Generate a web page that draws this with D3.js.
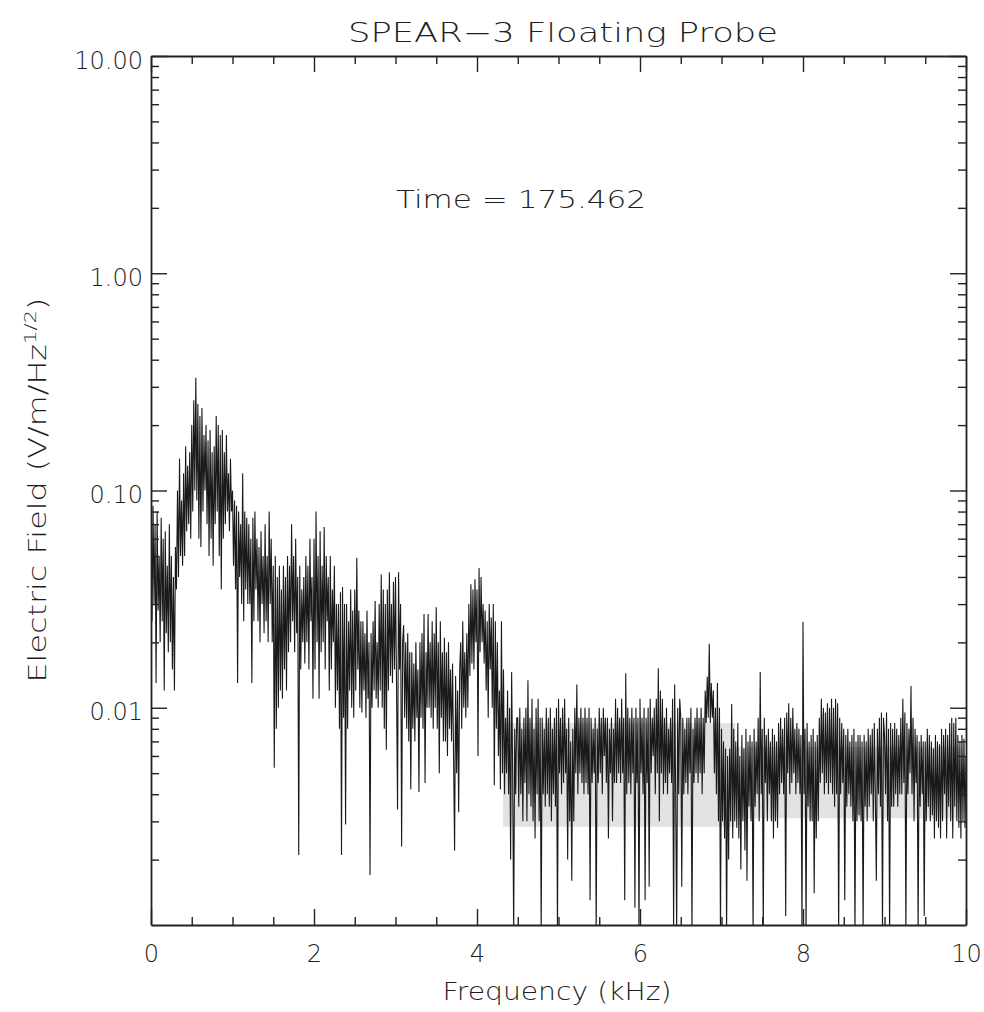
<!DOCTYPE html>
<html>
<head>
<meta charset="utf-8">
<script src="https://d3js.org/d3.v7.min.js"></script>
<style>
  body { margin: 0; background: #fff; }
  svg { display: block; }
  .lbl { font-family: "DejaVu Sans Light", "DejaVu Sans ExtraLight", "DejaVu Sans", sans-serif; font-weight: 200; fill: #1e1e1e; }
  .axis path, .axis line { stroke: #222; }
  .axis text { font-family: "DejaVu Sans Light", "DejaVu Sans ExtraLight", "DejaVu Sans", sans-serif; font-weight: 200; fill: #1e1e1e; font-size: 24px; }
</style>
</head>
<body>
<div id="chart"></div>
<script>
// probe spectrum, one sample every 12.5 Hz, one array per kHz (V/m/Hz^1/2)
const freqStep = 0.0125;
const khz0to1 = [
  .06,.025,.085,.03,.07,.013,.08,.028,  .05,.02,.075,.025,.06,.012,.065,.022,
  .045,.018,.07,.02,.05,.015,.04,.012,  .055,.035,.1,.04,.14,.05,.09,.045,
  .12,.05,.16,.065,.13,.07,.15,.06,     .2,.08,.26,.1,.33,.09,.25,.06,
  .22,.055,.24,.08,.18,.1,.2,.07,       .17,.05,.19,.06,.15,.045,.16,.07,
  .22,.08,.2,.05,.18,.035,.19,.06,      .15,.07,.18,.08,.12,.065,.14,.08];
const khz1to2 = [
  .1,.045,.09,.035,.085,.013,.08,.04,   .07,.03,.12,.025,.08,.035,.075,.03,
  .07,.03,.06,.013,.075,.025,.08,.035,  .06,.025,.055,.02,.065,.03,.05,.022,
  .07,.025,.05,.02,.08,.03,.06,.02,     .045,.0053,.05,.008,.04,.01,.045,.012,
  .035,.011,.045,.015,.04,.012,.05,.018, .045,.02,.07,.025,.05,.018,.06,.022,
  .04,.0021,.045,.015,.035,.02,.04,.016, .05,.02,.045,.015,.06,.025,.04,.011];
const khz2to3 = [
  .06,.015,.08,.02,.05,.011,.065,.018,  .045,.02,.068,.015,.05,.025,.04,.012,
  .05,.015,.035,.02,.045,.01,.03,.012,  .03,.008,.034,.0021,.036,.009,.03,.0029,
  .03,.008,.025,.012,.035,.01,.028,.009, .035,.012,.049,.015,.028,.01,.025,.0095,
  .025,.012,.022,.009,.028,.011,.02,.0017, .022,.01,.025,.012,.031,.011,.02,.01,
  .03,.012,.041,.01,.035,.008,.03,.0064, .035,.012,.042,.014,.03,.013,.038,.015];
const khz3to4 = [
  .04,.013,.0034,.042,.015,.03,.0023,.02, .024,.009,.02,.008,.022,.007,.018,.0042,
  .018,.008,.016,.007,.02,.009,.015,.0041, .02,.009,.022,.008,.027,.0045,.018,.01,
  .027,.01,.02,.009,.025,.008,.022,.01,  .029,.008,.02,.005,.025,.009,.018,.007,
  .021,.007,.018,.006,.02,.008,.015,.007, .016,.006,.0022,.014,.005,.012,.0033,.015,
  .02,.008,.025,.01,.018,.009,.022,.01,  .03,.014,.037,.016,.035,.015,.039,.02];
const khz4to5 = [
  .035,.006,.044,.018,.04,.02,.03,.016,  .028,.012,.025,.009,.03,.015,.026,.01,
  .03,.0044,.025,.008,.02,.006,.012,.0042, .025,.005,.015,.004,.009,.005,.012,.004,
  .01,.002,.0146,.005,.0009,.008,.004,.009, .009,.0035,.01,.004,.008,.003,.009,.0045,
  .01,.003,.0134,.004,.009,.0035,.011,.003, .008,.0025,.01,.004,.011,.003,.009,.0009,
  .009,.004,.008,.0035,.01,.004,.009,.0035, .01,.003,.008,.004,.009,.0035,.01,.0009];
const khz5to6 = [
  .011,.005,.009,.004,.01,.0045,.011,.005, .008,.002,.009,.003,.007,.0016,.008,.003,
  .01,.005,.0128,.004,.009,.005,.01,.0045, .009,.004,.01,.0045,.009,.004,.01,.0013,
  .009,.0045,.008,.005,.009,.0009,.008,.0045, .01,.005,.009,.004,.01,.006,.009,.0045,
  .009,.0025,.008,.005,.009,.003,.008,.0045, .011,.0045,.01,.005,.009,.0045,.011,.005,
  .009,.0013,.0144,.004,.01,.0045,.009,.004, .01,.005,.009,.0012,.01,.0045,.009,.0009];
const khz6to7 = [
  .011,.005,.009,.004,.01,.0013,.009,.0045, .01,.0015,.011,.005,.009,.006,.01,.004,
  .011,.005,.0152,.003,.012,.005,.011,.004, .009,.0045,.01,.004,.008,.005,.009,.0045,
  .011,.0009,.0128,.004,.0009,.01,.004,.011, .009,.0015,.009,.004,.008,.0045,.009,.004,
  .009,.005,.01,.0009,.008,.0045,.009,.005, .01,.0045,.009,.005,.01,.004,.009,.005,
  .012,.0085,.0139,.009,.0197,.0085,.013,.009, .012,.005,.01,.004,.013,.003,.01,.0009];
const khz7to8 = [
  .008,.003,.007,.0025,.0065,.0009,.006,.002, .0065,.003,.0104,.0025,.008,.003,.007,.0028,
  .0085,.0025,.006,.0018,.0075,.003,.0065,.0022, .008,.0016,.007,.0035,.0075,.003,.007,.0009,
  .008,.0035,.007,.004,.009,.003,.0146,.004, .008,.0009,.009,.0045,.0075,.003,.008,.004,
  .007,.003,.008,.0025,.0075,.003,.007,.0028, .0085,.004,.009,.0045,.008,.004,.009,.0011,
  .0095,.005,.0105,.004,.009,.0045,.01,.005, .008,.004,.0085,.0045,.008,.004,.0075,.0009];
const khz8to9 = [
  .0249,.004,.008,.0009,.0085,.0035,.007,.003, .0075,.003,.008,.0014,.007,.0025,.0075,.003,
  .009,.0045,.011,.005,.01,.004,.0095,.0045, .0105,.004,.01,.0045,.011,.004,.01,.0035,
  .011,.004,.0105,.0009,.009,.004,.0085,.0045, .008,.0013,.0075,.0035,.008,.004,.007,.0035,
  .0075,.003,.008,.0009,.007,.003,.0075,.0032, .0075,.003,.007,.0009,.0075,.0035,.007,.003,
  .008,.0035,.0075,.004,.008,.003,.0085,.004, .0016,.008,.004,.009,.0035,.0095,.0009,.009];
const khz9to10 = [
  .0075,.004,.0095,.003,.008,.0009,.0085,.0035, .008,.0035,.0085,.004,.008,.0035,.0075,.004,
  .009,.004,.011,.0045,.0095,.0009,.0085,.004, .008,.005,.0126,.004,.009,.003,.008,.0045,
  .0075,.0009,.007,.0035,.0075,.004,.007,.0011, .007,.003,.008,.0035,.0075,.003,.007,.0032,
  .0065,.0025,.0075,.003,.007,.0028,.0068,.0025, .008,.003,.0075,.004,.008,.0025,.0075,.0035,
  .0085,.003,.009,.0025,.0085,.0035,.009,.003, .0075,.0028,.007,.0025,.0075,.003,.0072,.0028,
  .006];

// grey smudge of the scanned original, kHz / field extents
const scanShade = [
  {f0: 4.32, f1: 7.17, lo: 0.00283, hi: 0.0085},
  {f0: 7.17, f1: 9.93, lo: 0.0031, hi: 0.0066}
];

const freqMajor = [0, 2, 4, 6, 8, 10];
const freqMinor = [0.5, 1, 1.5, 2.5, 3, 3.5, 4.5, 5, 5.5, 6.5, 7, 7.5, 8.5, 9, 9.5];
const fieldMajor = [0.01, 0.1, 1, 10];
const fieldLabels = ["0.01", "0.10", "1.00", "10.00"];
const decades = [0.001, 0.01, 0.1, 1];
const mantissas = [2, 3, 4, 5, 6, 7, 8, 9];

const titleText = "SPEAR\u22123 Floating Probe";
const timeText = "Time = 175.462";
const xTitle = "Frequency (kHz)";

const margin = {top: 56, right: 18, bottom: 87, left: 151};
const W = 984 - margin.left - margin.right;
const H = 1012 - margin.top - margin.bottom;

const svg = d3.select("#chart").append("svg")
  .attr("width", 984).attr("height", 1012);

const g = svg.append("g")
  .attr("transform", `translate(${margin.left},${margin.top})`);

const x = d3.scaleLinear().domain([0, 10]).range([0, W]);
const y = d3.scaleLog().domain([0.001, 10]).range([H, 0]);

const spectrum = [].concat(khz0to1, khz1to2, khz2to3, khz3to4, khz4to5,
    khz5to6, khz6to7, khz7to8, khz8to9, khz9to10)
  .map((v, i) => ({f: i * freqStep, e: v}));

const fieldMinor = [];
decades.forEach(d => mantissas.forEach(m => fieldMinor.push(d * m)));

g.append("clipPath").attr("id", "plotclip")
  .append("rect").attr("width", W).attr("height", H);

g.selectAll("rect.shade")
  .data(scanShade)
  .enter().append("rect")
  .attr("class", "shade")
  .attr("x", d => x(d.f0))
  .attr("y", d => y(d.hi))
  .attr("width", d => x(d.f1) - x(d.f0))
  .attr("height", d => y(d.lo) - y(d.hi))
  .attr("fill", "#e2e2e2");

g.append("path")
  .datum(spectrum)
  .attr("clip-path", "url(#plotclip)")
  .attr("fill", "none")
  .attr("stroke", "#1a1a1a")
  .attr("stroke-width", 1.1)
  .attr("stroke-linejoin", "bevel")
  .attr("d", d3.line().x(d => x(d.f)).y(d => y(d.e)));

function styleAxis(sel) {
  sel.attr("class", "axis");
  sel.selectAll("line").attr("stroke-width", 1.4);
  sel.select(".domain").attr("stroke-width", 1.8);
}

// bottom / top
g.append("g").attr("transform", `translate(0,${H})`)
  .call(d3.axisBottom(x).tickValues(freqMajor).tickSize(-16).tickSizeOuter(0)
    .tickPadding(20).tickFormat(d3.format("d")))
  .call(styleAxis);
g.append("g").attr("transform", `translate(0,${H})`)
  .call(d3.axisBottom(x).tickValues(freqMinor).tickSize(-8).tickFormat(""))
  .call(styleAxis).call(s => s.select(".domain").remove());
g.append("g")
  .call(d3.axisTop(x).tickValues(freqMajor).tickSize(-16).tickSizeOuter(0).tickFormat(""))
  .call(styleAxis);
g.append("g")
  .call(d3.axisTop(x).tickValues(freqMinor).tickSize(-8).tickFormat(""))
  .call(styleAxis).call(s => s.select(".domain").remove());

// left / right
g.append("g")
  .call(d3.axisLeft(y).tickValues(fieldMajor).tickSize(-16).tickSizeOuter(0)
    .tickPadding(8).tickFormat((d, i) => fieldLabels[i]))
  .call(styleAxis)
  .call(s => s.selectAll("text").attr("dy", "0.5em"));
g.append("g")
  .call(d3.axisLeft(y).tickValues(fieldMinor).tickSize(-8).tickFormat(""))
  .call(styleAxis).call(s => s.select(".domain").remove());
g.append("g").attr("transform", `translate(${W},0)`)
  .call(d3.axisRight(y).tickValues(fieldMajor).tickSize(-16).tickSizeOuter(0).tickFormat(""))
  .call(styleAxis);
g.append("g").attr("transform", `translate(${W},0)`)
  .call(d3.axisRight(y).tickValues(fieldMinor).tickSize(-8).tickFormat(""))
  .call(styleAxis).call(s => s.select(".domain").remove());

// labels
svg.append("text").attr("class", "lbl")
  .attr("x", 563).attr("y", 42)
  .attr("text-anchor", "middle")
  .attr("font-size", 26)
  .attr("textLength", 430).attr("lengthAdjust", "spacingAndGlyphs")
  .text(titleText);

svg.append("text").attr("class", "lbl")
  .attr("x", 396).attr("y", 208)
  .attr("font-size", 24)
  .attr("textLength", 250).attr("lengthAdjust", "spacingAndGlyphs")
  .text(timeText);

svg.append("text").attr("class", "lbl")
  .attr("x", 557).attr("y", 1000)
  .attr("text-anchor", "middle")
  .attr("font-size", 24)
  .attr("textLength", 229).attr("lengthAdjust", "spacingAndGlyphs")
  .text(xTitle);

const yt = svg.append("text").attr("class", "lbl")
  .attr("transform", "translate(46,490) rotate(-90)")
  .attr("text-anchor", "middle")
  .attr("font-size", 24)
  .attr("textLength", 385).attr("lengthAdjust", "spacingAndGlyphs");
yt.append("tspan").text("Electric Field (V/m/Hz");
yt.append("tspan").attr("dy", -10).attr("font-size", 16).text("1/2");
yt.append("tspan").attr("dy", 10).text(")");
</script>
</body>
</html>
